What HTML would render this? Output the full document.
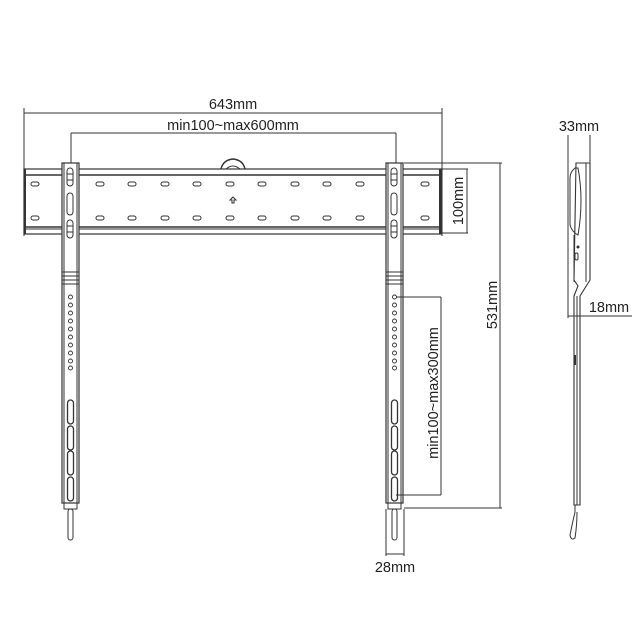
<!DOCTYPE html>
<html><head><style>
html,body{margin:0;padding:0;background:#fff;}
svg{display:block;}
text{font-family:"Liberation Sans",sans-serif;font-size:14.5px;fill:#222;}
</style></head><body>
<svg width="640" height="634" viewBox="0 0 640 634" xmlns="http://www.w3.org/2000/svg">
<g stroke="#333" fill="none" stroke-width="1">
<line x1="24" y1="113" x2="442" y2="113"/>
<line x1="24" y1="108" x2="24" y2="236"/>
<line x1="442" y1="108" x2="442" y2="236"/>
<line x1="71" y1="133" x2="396" y2="133"/>
<line x1="71" y1="133" x2="71" y2="163"/>
<line x1="396" y1="133" x2="396" y2="163"/>
<rect x="24" y="169" width="417" height="65" stroke-width="1.2"/>
<line x1="24" y1="175" x2="441" y2="175" stroke-width="1.6"/>
<line x1="24" y1="227" x2="441" y2="227" stroke-width="1.6"/>
<line x1="24" y1="229" x2="441" y2="229"/>
<line x1="25" y1="169" x2="25" y2="234" stroke-width="2"/>
<line x1="440" y1="169" x2="440" y2="234" stroke-width="2"/>
<path d="M221 169 Q223 160 233 159 Q243 160 245 169" stroke-width="1.4"/>
<path d="M226 169 Q233 163 240 169"/>
<path d="M233 197 l-3 3 h2 v3 h2 v-3 h2 z"/>
<g stroke-width="1">
<rect x="31" y="182" width="8" height="4" rx="2"/><rect x="31" y="216" width="8" height="4" rx="2"/>
<rect x="96" y="182" width="8" height="4" rx="2"/><rect x="96" y="216" width="8" height="4" rx="2"/>
<rect x="128" y="182" width="8" height="4" rx="2"/><rect x="128" y="216" width="8" height="4" rx="2"/>
<rect x="161" y="182" width="8" height="4" rx="2"/><rect x="161" y="216" width="8" height="4" rx="2"/>
<rect x="193" y="182" width="8" height="4" rx="2"/><rect x="193" y="216" width="8" height="4" rx="2"/>
<rect x="226" y="182" width="8" height="4" rx="2"/><rect x="226" y="216" width="8" height="4" rx="2"/>
<rect x="258" y="182" width="8" height="4" rx="2"/><rect x="258" y="216" width="8" height="4" rx="2"/>
<rect x="291" y="182" width="8" height="4" rx="2"/><rect x="291" y="216" width="8" height="4" rx="2"/>
<rect x="323" y="182" width="8" height="4" rx="2"/><rect x="323" y="216" width="8" height="4" rx="2"/>
<rect x="356" y="182" width="8" height="4" rx="2"/><rect x="356" y="216" width="8" height="4" rx="2"/>
<rect x="421" y="182" width="8" height="4" rx="2"/><rect x="421" y="216" width="8" height="4" rx="2"/>
</g>
<g id="up">
<rect x="62" y="163" width="17" height="340" fill="#fff" stroke-width="1.2"/>
<line x1="64" y1="163" x2="64" y2="503"/>
<line x1="77" y1="163" x2="77" y2="503"/>
<rect x="67" y="168" width="6" height="18" rx="3"/>
<line x1="67" y1="174" x2="73" y2="174"/><line x1="67" y1="180" x2="73" y2="180"/>
<rect x="67" y="193" width="6" height="22" rx="3"/>
<rect x="67" y="220" width="6" height="18" rx="3"/>
<line x1="67" y1="226" x2="73" y2="226"/><line x1="67" y1="232" x2="73" y2="232"/>
<line x1="62" y1="272" x2="79" y2="272"/><line x1="62" y1="276" x2="79" y2="276"/>
<line x1="62" y1="280" x2="79" y2="280"/><line x1="62" y1="284" x2="79" y2="284"/>
<g stroke-width="0.9">
<circle cx="70.5" cy="297" r="2"/><circle cx="70.5" cy="305" r="2"/><circle cx="70.5" cy="313" r="2"/>
<circle cx="70.5" cy="321" r="2"/><circle cx="70.5" cy="329" r="2"/><circle cx="70.5" cy="337" r="2"/>
<circle cx="70.5" cy="345" r="2"/><circle cx="70.5" cy="353" r="2"/><circle cx="70.5" cy="361" r="2"/>
<circle cx="70.5" cy="368" r="2"/>
</g>
<rect x="67.5" y="400" width="6" height="24" rx="3" stroke-width="1.3"/>
<rect x="67.5" y="426" width="6" height="24" rx="3" stroke-width="1.3"/>
<rect x="67.5" y="451" width="6" height="24" rx="3" stroke-width="1.3"/>
<rect x="67.5" y="477" width="6" height="24" rx="3" stroke-width="1.3"/>
<rect x="64" y="503" width="13" height="6"/>
<rect x="68" y="509" width="5" height="31" rx="2.5"/>
</g>
<use href="#up" transform="translate(324,0)"/>
<line x1="441" y1="169" x2="468" y2="169"/>
<line x1="441" y1="233" x2="468" y2="233"/>
<line x1="467" y1="169" x2="467" y2="233"/>
<line x1="404" y1="163" x2="502" y2="163"/>
<line x1="404" y1="508" x2="502" y2="508"/>
<line x1="500" y1="163" x2="500" y2="508"/>
<line x1="396" y1="297" x2="441" y2="297"/>
<line x1="396" y1="495" x2="441" y2="495"/>
<line x1="441" y1="297" x2="441" y2="495"/>
<line x1="386" y1="509" x2="386" y2="556"/>
<line x1="404" y1="509" x2="404" y2="556"/>
<line x1="386" y1="554" x2="404" y2="554"/>
<line x1="568" y1="135" x2="568" y2="318"/>
<line x1="590" y1="135" x2="590" y2="165"/>
<line x1="568" y1="316" x2="632" y2="316"/>
<path d="M576 163 H590 V280 L585 288 L580 296 V505 H574 V296 L578 286 L574 280 Z" stroke-width="1.1"/>
<line x1="586" y1="163" x2="586" y2="282"/>
<path d="M575 168 Q570 172 570 178 V225 Q572 232 578 235 Q584 200 578 168 Z"/>
<path d="M574 235 V282"/>
<circle cx="578" cy="247" r="1" fill="#333"/>
<rect x="575" y="253" width="3" height="7" rx="1.5"/>
<line x1="577" y1="296" x2="577" y2="505"/>
<line x1="575" y1="355" x2="575" y2="365" stroke-width="2"/>
<path d="M575 505 V512 Q572 525 570 535 Q571 541 575 538 Q577 525 577 512"/>
</g>
<text x="233" y="109" text-anchor="middle">643mm</text>
<text x="233" y="130" text-anchor="middle">min100~max600mm</text>
<text transform="translate(463,201) rotate(-90)" text-anchor="middle">100mm</text>
<text transform="translate(497,305) rotate(-90)" text-anchor="middle">531mm</text>
<text transform="translate(438,393) rotate(-90)" text-anchor="middle">min100~max300mm</text>
<text x="395" y="572" text-anchor="middle">28mm</text>
<text x="579" y="131" text-anchor="middle">33mm</text>
<text x="609" y="312" text-anchor="middle">18mm</text>
</svg>
</body></html>
